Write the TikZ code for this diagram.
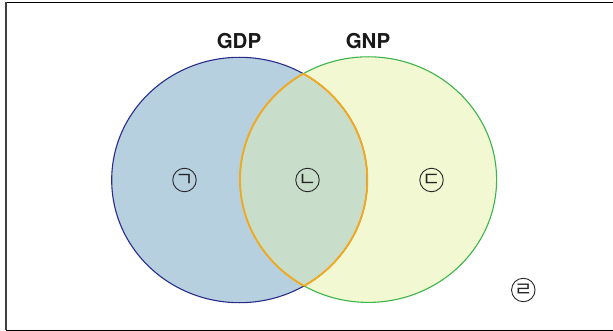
\documentclass[tikz,border=0pt]{standalone}
\usepackage{fontspec}
\setmainfont{TeX Gyre Heros}
\newfontfamily\krfont{Noto Sans CJK KR}
\definecolor{gdpfill}{RGB}{183,208,223}
\definecolor{gnpfill}{RGB}{242,249,210}
\definecolor{bothfill}{RGB}{201,222,202}
\definecolor{gdpline}{RGB}{40,44,140}
\definecolor{gnpline}{RGB}{60,180,72}
\definecolor{bothline}{RGB}{245,168,30}
\definecolor{markline}{RGB}{40,40,40}
\tikzset{
  setlabel/.style={font=\fontsize{20.5}{20.5}\selectfont\bfseries, text=black!90, inner sep=0pt},
  marker/.style={circle, draw=markline, line width=0.9pt, minimum size=23.5pt, inner sep=0pt},
  jamo/.style={inner sep=0pt, font=\krfont\fontsize{20}{20}\selectfont, text=black!85},
}
\begin{document}
\begin{tikzpicture}[x=1pt,y=-1pt]
\useasboundingbox (0,0) rectangle (613,331);
% frame (left, top, bottom)
\draw[line width=1pt, black] (613,2.3) -- (6,2.3);
\draw[line width=2pt, black!75] (6,2) -- (6,330);
\draw[line width=1pt, black] (6,330) -- (613,330);
% fills
\def\gdpshape{(239.5,180) ellipse [x radius=127.8, y radius=122.7]}
\def\gnpshape{(368.3,179.6) ellipse [x radius=128.3, y radius=122.8]}
\fill[gdpfill] \gdpshape;
\fill[gnpfill] \gnpshape;
\begin{scope}
  \clip \gdpshape;
  \fill[bothfill] \gnpshape;
\end{scope}
% outlines
\draw[gdpline, line width=1.1pt] \gdpshape;
\draw[gnpline, line width=1.1pt] \gnpshape;
\begin{scope}
  \clip \gnpshape;
  \draw[bothline, line width=1.8pt] \gdpshape;
\end{scope}
\begin{scope}
  \clip \gdpshape;
  \draw[bothline, line width=1.8pt] \gnpshape;
\end{scope}
% labels
\node[setlabel] (gdp) at (239,41) {GDP};
\node[setlabel] (gnp) at (368,41) {GNP};
\node[marker] (ga) at (184.5,180) {};
\node[marker] (na) at (307.5,180) {};
\node[marker] (da) at (431.5,180) {};
\node[marker] (ra) at (523.3,290) {};
\node[jamo] (ga-t) at (ga) {ㄱ};
\node[jamo] (na-t) at (na) {ㄴ};
\node[jamo] (da-t) at (da) {ㄷ};
\node[jamo] (ra-t) at (ra) {ㄹ};
\end{tikzpicture}
\end{document}
